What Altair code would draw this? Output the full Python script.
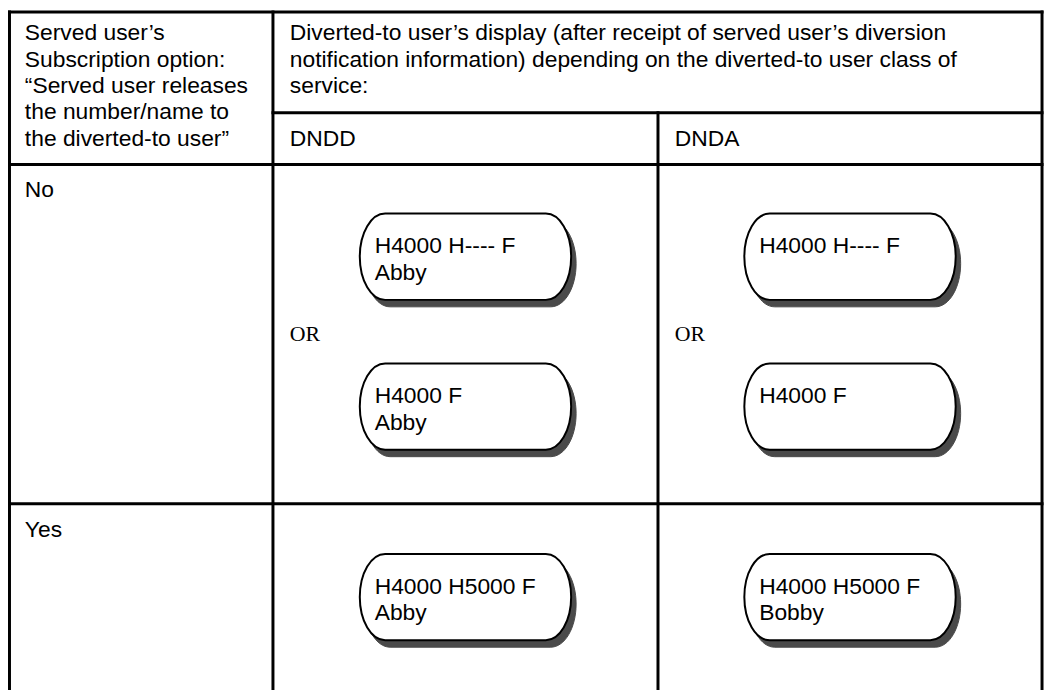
import altair as alt
import pandas as pd

# ---- content -------------------------------------------------------------
option_header = ("Served user\u2019s\nSubscription option:\n\u201cServed user releases\n"
                 "the number/name to\nthe diverted-to user\u201d")
display_header = ("Diverted-to user\u2019s display (after receipt of served user\u2019s diversion\n"
                  "notification information) depending on the diverted-to user class of\n"
                  "service:")
class_labels = ["DNDD", "DNDA"]
row_labels = ["No", "Yes"]

bubble_row = ["No", "No", "No", "No", "Yes", "Yes"]
bubble_class = ["DNDD", "DNDD", "DNDA", "DNDA", "DNDD", "DNDA"]
bubble_slot = [0, 1, 0, 1, 0, 0]
bubble_text = ["H4000 H---- F\nAbby", "H4000 F\nAbby",
               "H4000 H---- F", "H4000 F",
               "H4000 H5000 F\nAbby", "H4000 H5000 F\nBobby"]
or_class = ["DNDD", "DNDA"]
or_text = ["OR", "OR"]

# ---- layout (page pixels) ------------------------------------------------
W, H = 1046, 683
col_edges = [8, 275, 663, 1050]          # left, option|display, DNDD|DNDA, right
row_edges = [6, 111, 163, 505, 691]      # top, sub-header, body, No|Yes, bottom
edge_min = 9.5                           # keep outer border inside the drawing
slot_y = {("No", 0): 256, ("No", 1): 407, ("Yes", 0): 599}
or_y = 334
bubble_w, bubble_h = 213, 87

class_x0 = {c: col_edges[i + 1] for i, c in enumerate(class_labels)}
class_cx = {c: (col_edges[i + 1] + col_edges[i + 2]) / 2 for i, c in enumerate(class_labels)}
row_top = {"No": row_edges[2], "Yes": row_edges[3]}

cx = [max(v, edge_min) for v in col_edges]
ry = [max(v, edge_min) for v in row_edges]
lines = pd.DataFrame([
    dict(x=cx[0], x2=cx[3], y=ry[0], y2=ry[0]),
    dict(x=cx[1], x2=cx[3], y=ry[1], y2=ry[1]),
    dict(x=cx[0], x2=cx[3], y=ry[2], y2=ry[2]),
    dict(x=cx[0], x2=cx[3], y=ry[3], y2=ry[3]),
    dict(x=cx[0], x2=cx[0], y=ry[0], y2=ry[4]),
    dict(x=cx[1], x2=cx[1], y=ry[0], y2=ry[4]),
    dict(x=cx[2], x2=cx[2], y=ry[1], y2=ry[4]),
    dict(x=cx[3], x2=cx[3], y=ry[0], y2=ry[4]),
])

pad = 17
base = 32
labels = pd.DataFrame(
    [dict(x=col_edges[0] + pad, y=row_edges[0] + base, t=option_header),
     dict(x=col_edges[1] + pad, y=row_edges[0] + base, t=display_header)]
    + [dict(x=class_x0[c] + pad, y=row_edges[1] + base + 1, t=c) for c in class_labels]
    + [dict(x=col_edges[0] + pad, y=row_top[r] + base + 1, t=r) for r in row_labels]
)

bub = pd.DataFrame(dict(row=bubble_row, cls=bubble_class, slot=bubble_slot, t=bubble_text))
bub["x"] = [class_cx[c] for c in bub["cls"]]
bub["y"] = [slot_y[(r, s)] for r, s in zip(bub["row"], bub["slot"])]
bub["tx"] = bub["x"] - bubble_w / 2 + 15
bub["ty"] = bub["y"] - bubble_h / 2 + 40

ors = pd.DataFrame(dict(cls=or_class, t=or_text))
ors["x"] = [class_x0[c] + pad for c in ors["cls"]]
ors["y"] = or_y

xs = alt.Scale(domain=[8, 8 + W], nice=False, zero=False)
ys = alt.Scale(domain=[8, 8 + H], reverse=True, nice=False, zero=False)
X = lambda f: alt.X(f, type="quantitative", scale=xs, axis=None)
Y = lambda f: alt.Y(f, type="quantitative", scale=ys, axis=None)

r = bubble_h / bubble_w
k = 0.76
shape = (f"M {-k} {-r} L {k} {-r} A {1-k} {r} 0 0 1 {k} {r} "
         f"L {-k} {r} A {1-k} {r} 0 0 1 {-k} {-r} Z")
size = bubble_w ** 2

rules = alt.Chart(lines).mark_rule(color="black", strokeWidth=3, strokeCap="square").encode(
    x=X("x"), x2="x2", y=Y("y"), y2="y2")

shadow = alt.Chart(bub).mark_point(
    shape=shape, size=size, filled=True, fill="#4a4a4a", stroke="#4a4a4a",
    strokeWidth=1, opacity=1, xOffset=5, yOffset=7).encode(x=X("x"), y=Y("y"))

bubble = alt.Chart(bub).mark_point(
    shape=shape, size=size, filled=True, fill="white", stroke="black",
    strokeWidth=2, opacity=1).encode(x=X("x"), y=Y("y"))

btext = alt.Chart(bub).mark_text(
    align="left", baseline="alphabetic", font="Liberation Sans", fontSize=23,
    lineHeight=27, lineBreak="\n", color="black").encode(
    x=X("tx"), y=Y("ty"), text="t")

ltext = alt.Chart(labels).mark_text(
    align="left", baseline="alphabetic", font="Liberation Sans", fontSize=23,
    lineHeight=26.5, lineBreak="\n", color="black").encode(
    x=X("x"), y=Y("y"), text="t")

otext = alt.Chart(ors).mark_text(
    align="left", baseline="middle", font="Liberation Serif", fontSize=22,
    color="black").encode(x=X("x"), y=Y("y"), text="t")

chart = alt.layer(rules, shadow, bubble, btext, ltext, otext).properties(
    width=W, height=H, padding=0, autosize=alt.AutoSizeParams(type="none"),
).configure_view(stroke=None)

chart.save("out.html", embed_options={"renderer": "svg", "actions": False})
